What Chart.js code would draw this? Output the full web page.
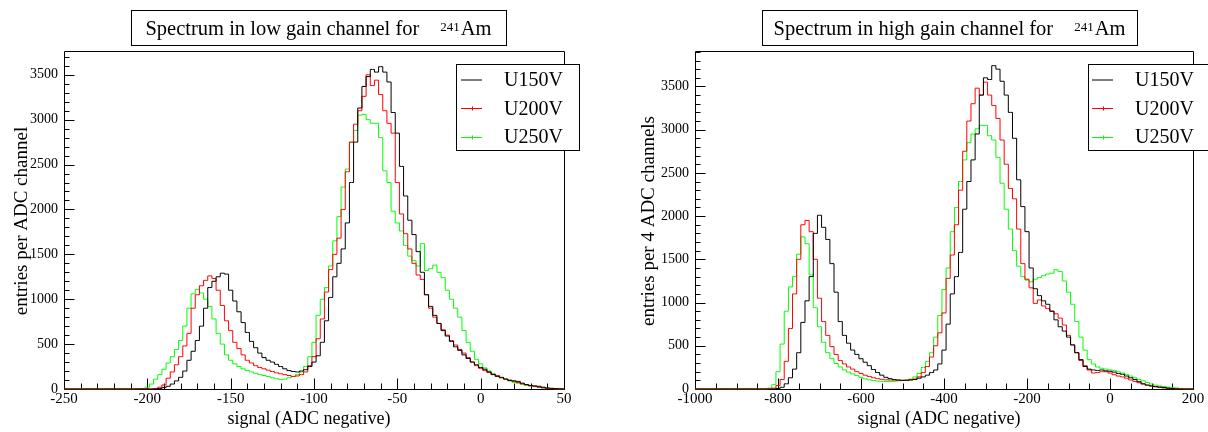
<!DOCTYPE html>
<html><head><meta charset="utf-8">
<script src="https://cdn.jsdelivr.net/npm/chart.js@4.4.1/dist/chart.umd.min.js"></script>
<style>
html,body{margin:0;padding:0;background:#fff;}
#wrap{position:relative;width:1208px;height:432px;overflow:hidden;}
canvas{position:absolute;top:0;}
#low{left:0}#high{left:604px}
</style></head><body>
<div id="wrap"><canvas id="low" width="604" height="432"></canvas><canvas id="high" width="604" height="432"></canvas></div>
<script>
// low gain channel, 1 ADC per bin (read every 2.5 ADC)
const lowBins=[-250,-247.5,-245,-242.5,-240,-237.5,-235,-232.5,-230,-227.5,
 -225,-222.5,-220,-217.5,-215,-212.5,-210,-207.5,-205,-202.5,
 -200,-197.5,-195,-192.5,-190,-187.5,-185,-182.5,-180,-177.5,
 -175,-172.5,-170,-167.5,-165,-162.5,-160,-157.5,-155,-152.5,
 -150,-147.5,-145,-142.5,-140,-137.5,-135,-132.5,-130,-127.5,
 -125,-122.5,-120,-117.5,-115,-112.5,-110,-107.5,-105,-102.5,
 -100,-97.5,-95,-92.5,-90,-87.5,-85,-82.5,-80,-77.5,
 -75,-72.5,-70,-67.5,-65,-62.5,-60,-57.5,-55,-52.5,
 -50,-47.5,-45,-42.5,-40,-37.5,-35,-32.5,-30,-27.5,
 -25,-22.5,-20,-17.5,-15,-12.5,-10,-7.5,-5,-2.5,
 0,2.5,5,7.5,10,12.5,15,17.5,20,22.5,
 25,27.5,30,32.5,35,37.5,40,42.5,45,47.5,
 50];
const lowU150=[0,0,0,0,0,0,0,0,0,0,
 0,0,0,0,0,0,0,0,0,0,
 0,0,0,5,15,30,55,90,130,200,
 320,420,540,700,900,1130,1200,1250,1290,1280,
 1100,980,860,740,630,530,460,400,350,320,
 300,275,250,225,205,195,190,200,215,250,
 300,370,520,760,1020,1250,1400,1560,1850,2300,
 2750,3130,3370,3480,3560,3530,3590,3530,3420,3080,
 2850,2480,2150,1880,1720,1530,1300,1050,920,820,
 730,650,590,530,470,430,380,340,300,270,
 240,220,190,160,140,130,110,95,90,85,
 65,50,40,35,30,20,12,8,5,2,
 0];
const lowU200=[0,0,0,0,0,0,0,0,0,0,
 0,0,0,0,0,0,0,0,0,0,
 0,0,5,20,45,120,190,270,360,480,
 620,900,1050,1150,1210,1260,1230,1100,930,760,
 650,520,450,380,320,290,260,240,225,210,
 195,180,170,160,150,140,145,160,190,260,
 360,560,780,1080,1330,1500,1680,2000,2420,2750,
 2950,3100,3260,3500,3380,3440,3280,3100,2960,2850,
 2300,1950,1730,1560,1400,1270,1220,1050,900,800,
 730,660,600,540,490,440,400,350,300,260,
 230,205,185,165,150,125,110,100,88,72,
 58,45,35,28,20,12,8,4,2,0,
 0];
const lowU250=[0,0,0,0,0,0,0,0,0,0,
 0,0,0,0,0,0,0,0,2,5,
 20,55,110,160,220,290,360,440,540,700,
 900,1060,1110,1070,1000,920,780,620,500,380,
 320,280,250,225,205,190,175,160,150,140,
 125,115,105,110,125,140,160,190,250,360,
 520,820,1000,1130,1370,1650,1920,2250,2450,2750,
 2880,3050,3060,3000,2960,2960,2800,2430,2300,1980,
 1850,1760,1600,1480,1430,1370,1620,1320,1340,1380,
 1300,1240,1100,1000,900,800,650,520,420,330,
 280,235,200,170,145,125,110,90,75,65,
 52,42,33,27,22,15,10,6,3,2,
 0];

// high gain channel, 4 ADC per bin (read every 10 ADC)
const highBins=[-1000,-990,-980,-970,-960,-950,-940,-930,-920,-910,
 -900,-890,-880,-870,-860,-850,-840,-830,-820,-810,
 -800,-790,-780,-770,-760,-750,-740,-730,-720,-710,
 -700,-690,-680,-670,-660,-650,-640,-630,-620,-610,
 -600,-590,-580,-570,-560,-550,-540,-530,-520,-510,
 -500,-490,-480,-470,-460,-450,-440,-430,-420,-410,
 -400,-390,-380,-370,-360,-350,-340,-330,-320,-310,
 -300,-290,-280,-270,-260,-250,-240,-230,-220,-210,
 -200,-190,-180,-170,-160,-150,-140,-130,-120,-110,
 -100,-90,-80,-70,-60,-50,-40,-30,-20,-10,
 0,10,20,30,40,50,60,70,80,90,
 100,110,120,130,140,150,160,170,180,190,
 200];
const highU150=[0,0,0,0,0,0,0,0,0,0,
 0,0,0,0,0,0,0,0,0,0,
 5,20,60,130,230,420,770,1020,1300,1800,
 2010,1870,1730,1450,1120,780,620,530,450,400,
 350,310,270,225,190,160,135,120,110,105,
 100,100,105,110,125,140,160,190,220,290,
 450,750,1100,1300,1580,2080,2400,2650,2950,3400,
 3600,3580,3740,3700,3560,3400,3200,2900,2420,2110,
 1820,1400,1160,1080,1020,980,900,800,720,670,
 600,510,420,340,260,230,220,215,220,210,
 205,195,180,170,150,130,110,85,60,45,
 35,28,22,18,10,5,2,0,0,0,
 0];
const highU200=[0,0,0,0,0,0,0,0,0,0,
 0,0,0,0,0,0,0,0,0,10,
 40,110,320,700,1100,1500,1900,1950,1820,1500,
 1050,780,620,490,400,330,290,255,230,200,
 180,160,145,130,120,112,106,104,102,100,
 100,102,106,115,140,190,260,370,500,650,
 880,1280,1550,1900,2300,2750,3100,3300,3480,3400,
 3550,3400,3280,3130,2880,2600,2320,2200,1850,1450,
 1270,1170,990,1030,960,930,900,870,820,740,
 620,510,420,330,270,220,185,190,200,200,
 185,165,150,140,125,105,88,72,58,45,
 35,25,18,12,6,3,0,0,0,0,
 0];
const highU250=[0,0,0,0,0,0,0,0,0,0,
 0,0,0,0,0,0,0,0,10,50,
 200,520,900,1180,1300,1560,1760,1680,1320,940,
 720,540,420,350,295,255,220,195,175,155,
 135,118,106,98,92,88,86,85,88,94,
 100,104,115,140,180,250,320,420,600,850,
 1150,1400,1820,2100,2400,2650,2850,2950,3010,3050,
 3050,2930,2880,2680,2380,2080,1850,1600,1420,1300,
 1260,1240,1270,1290,1310,1330,1340,1380,1360,1250,
 1120,980,780,600,450,340,290,255,240,230,
 220,215,200,185,170,150,130,110,95,75,
 58,45,35,28,22,18,12,6,2,0,
 0];

const yTickVals=[0,500,1000,1500,2000,2500,3000,3500];
const lowXTicks=[-250,-200,-150,-100,-50,0,50];
const highXTicks=[-1000,-800,-600,-400,-200,0,200];
const seriesNames=['U150V','U200V','U250V'];
const seriesColors=['#000000','#ff0000','#00ff00'];
const SERIF='"Liberation Serif","DejaVu Serif","Times New Roman",serif';

function pts(bins,vals){return bins.map((x,i)=>({x:x,y:vals[i]}));}

function makeChart(id,c){
  const decor={
    id:'decor'+id,
    beforeDatasetsDraw(chart){
      const ctx=chart.ctx,a=chart.chartArea,xs=chart.scales.x,ys=chart.scales.y;
      ctx.save();ctx.strokeStyle='#000';ctx.lineWidth=1;
      const L=Math.round(a.left)+0.5,R=Math.round(a.right)+0.5,T=Math.round(a.top)+0.5,B=Math.round(a.bottom)+0.5;
      ctx.beginPath();ctx.rect(L,T,R-L,B-T);ctx.stroke();
      ctx.beginPath();
      for(let v=c.xmin;v<=c.xmax+1e-6;v+=c.xMinor){
        const p=Math.round(xs.getPixelForValue(v))+0.5;
        const major=Math.abs((v-c.xmin)%c.xMajor)<1e-6;
        ctx.moveTo(p,B);ctx.lineTo(p,B-(major?11:6));
      }
      for(let v=0;v<=c.ymax;v+=100){
        const p=Math.round(ys.getPixelForValue(v))+0.5;
        const major=v%500===0;
        ctx.moveTo(L,p);ctx.lineTo(L+(major?10:5),p);
      }
      ctx.stroke();ctx.restore();
    },
    afterDraw(chart){
      const ctx=chart.ctx,a=chart.chartArea;
      ctx.save();ctx.strokeStyle='#000';ctx.lineWidth=1;ctx.fillStyle='#000';
      // title box
      const tb=c.titleBox;
      ctx.fillStyle='#fff';ctx.fillRect(tb[0],tb[1],tb[2]-tb[0],tb[3]-tb[1]);
      ctx.strokeRect(tb[0]+0.5,tb[1]+0.5,tb[2]-tb[0],tb[3]-tb[1]);
      ctx.fillStyle='#000';ctx.textBaseline='alphabetic';ctx.textAlign='left';
      ctx.font='20.5px '+SERIF;const w1=ctx.measureText(c.title).width;const w3=ctx.measureText('Am').width;
      ctx.font='13px '+SERIF;const w2=ctx.measureText('241').width;
      const tot=w1+21+w2+1+w3;let x0=(tb[0]+tb[2])/2-tot/2;
      ctx.font='20.5px '+SERIF;ctx.fillText(c.title,x0,35);
      ctx.font='13px '+SERIF;ctx.fillText('241',x0+w1+21,31);
      ctx.font='20.5px '+SERIF;ctx.fillText('Am',x0+w1+21+w2+1,35);
      // axis titles
      ctx.font='18px '+SERIF;ctx.textAlign='center';
      ctx.fillText('signal (ADC negative)',(a.left+a.right)/2-5,424);
      ctx.save();ctx.translate(c.yTitleX,(a.top+a.bottom)/2+1);ctx.rotate(-Math.PI/2);
      ctx.font='19px '+SERIF;ctx.fillText(c.yTitle,0,0);ctx.restore();
      // legend
      const lb=c.legendBox;
      ctx.fillStyle='#fff';ctx.fillRect(lb[0],lb[1],lb[2]-lb[0],lb[3]-lb[1]);
      ctx.strokeRect(lb[0]+0.5,lb[1]+0.5,lb[2]-lb[0],lb[3]-lb[1]);
      ctx.font='20px '+SERIF;ctx.textAlign='left';ctx.fillStyle='#000';
      const rowsY=[79.5,108,137],baseY=[86,114.5,143];
      seriesNames.forEach((n,k)=>{
        ctx.strokeStyle=seriesColors[k];ctx.beginPath();
        ctx.moveTo(c.legSample[0],rowsY[k]+0.5);ctx.lineTo(c.legSample[1],rowsY[k]+0.5);
        if(k>0){const m=Math.round((c.legSample[0]+c.legSample[1])/2)+0.5;ctx.moveTo(m,rowsY[k]-1.5);ctx.lineTo(m,rowsY[k]+2.5);}
        ctx.stroke();
        ctx.fillStyle='#000';ctx.fillText(n,c.legText,baseY[k]);
      });
      ctx.restore();
    }
  };
  return new Chart(document.getElementById(id),{
    type:'line',
    data:{datasets:c.vals.map((v,k)=>({label:seriesNames[k],data:pts(c.bins,v),borderColor:seriesColors[k],
      borderWidth:1,pointRadius:0,stepped:'middle',fill:false,clip:false}))},
    options:{responsive:false,animation:false,
      layout:{padding:{left:0,right:c.padRight,top:51,bottom:0}},
      plugins:{legend:{display:false},title:{display:false},tooltip:{enabled:false}},
      scales:{
        x:{type:'linear',min:c.xmin,max:c.xmax,grid:{display:false,drawTicks:false},border:{display:false},
          afterBuildTicks:s=>{s.ticks=c.xTicks.map(v=>({value:v}));},
          ticks:{font:{family:SERIF,size:15},color:'#000',padding:1,maxRotation:0,autoSkip:false,callback:v=>String(v)},
          afterFit:s=>{s.height=43;}},
        y:{min:0,max:c.ymax,grid:{display:false,drawTicks:false},border:{display:false},
          afterBuildTicks:s=>{s.ticks=yTickVals.map(v=>({value:v}));},
          ticks:{font:{family:SERIF,size:14},color:'#000',padding:6,autoSkip:false,callback:v=>String(v)},
          afterFit:s=>{s.width=c.yWidth;}}
      }},
    plugins:[decor]
  });
}

makeChart('low',{bins:lowBins,vals:[lowU150,lowU200,lowU250],xmin:-250,xmax:50,xMajor:50,xMinor:10,ymax:3765,xTicks:lowXTicks,
  yWidth:64,padRight:40,title:'Spectrum in low gain channel for',titleBox:[131,10,506,45],
  yTitle:'entries per ADC channel',yTitleX:27,legendBox:[456,64,579,150],legSample:[461,482],legText:504});
makeChart('high',{bins:highBins,vals:[highU150,highU200,highU250],xmin:-1000,xmax:200,xMajor:200,xMinor:50,ymax:3910,xTicks:highXTicks,
  yWidth:91,padRight:15,title:'Spectrum in high gain channel for',titleBox:[158,10,533,45],
  yTitle:'entries per 4 ADC channels',yTitleX:50,legendBox:[484,64,620,150],legSample:[488,509],legText:531});
</script>
</body></html>
